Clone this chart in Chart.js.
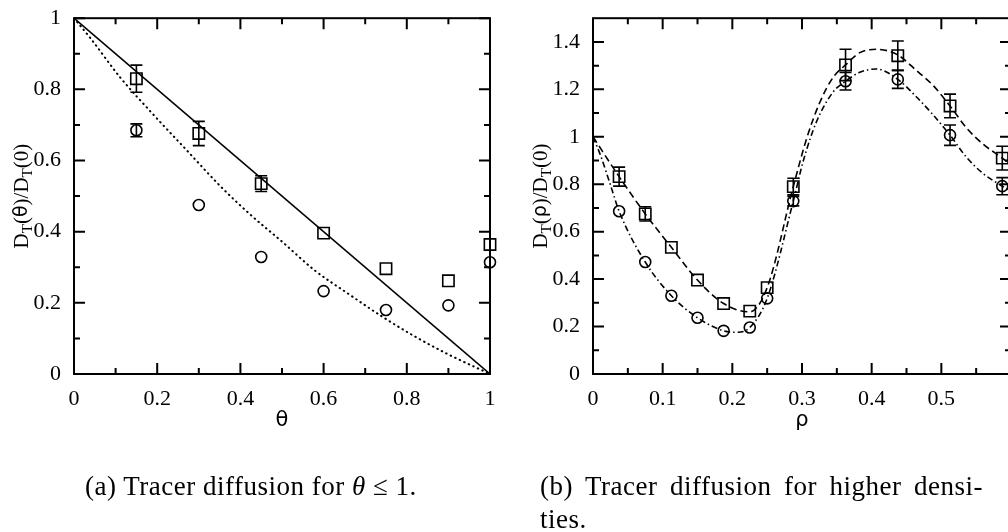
<!DOCTYPE html>
<html>
<head>
<meta charset="utf-8">
<script src="https://cdn.jsdelivr.net/npm/chart.js@4.4.0/dist/chart.umd.min.js"></script>
<style>
  html, body { margin: 0; padding: 0; background: #fff; }
  #page { position: relative; width: 1008px; height: 532px; overflow: hidden; }
  canvas { position: absolute; top: 0; }
  #left { left: 0; }
  #right { left: 504px; }
  .caption { position: absolute; font-family: "Liberation Serif", serif; font-size: 27px; line-height: 33px; color: #000; white-space: nowrap; letter-spacing: 0.5px; }
</style>
</head>
<body>
<div id="page">
  <canvas id="left" width="504" height="532"></canvas>
  <canvas id="right" width="524" height="532"></canvas>
  <div class="caption" style="left:85px; top:470px;">(a) Tracer diffusion for <i>θ</i> ≤ 1.</div>
  <div class="caption" style="left:540px; top:470px; width:443px;">
    <div style="text-align:justify; text-align-last:justify;">(b) Tracer diffusion for higher densi-</div>
    <div>ties.</div>
  </div>
</div>
<script>
// (a) tracer diffusion against coverage theta
const theta = [0.15, 0.3, 0.45, 0.6, 0.75, 0.9, 1.0];
const thetaSquares = [0.83, 0.676, 0.535, 0.396, 0.296, 0.262, 0.364];
const thetaSquaresErr = [0.038, 0.034, 0.022, 0, 0, 0, 0];
const thetaCircles = [0.685, 0.475, 0.329, 0.233, 0.18, 0.193, 0.314];
const thetaCirclesErr = [0.018, 0, 0, 0, 0, 0, 0];
const solidTheta = [0, 1];
const solidVal = [1, 0];
const dottedTheta = [0, 0.04, 0.11, 0.19, 0.27, 0.35, 0.42, 0.5, 0.58, 0.66, 0.74, 0.82, 0.9, 1];
const dottedVal = [1, 0.943, 0.835, 0.73, 0.63, 0.53, 0.452, 0.372, 0.29, 0.225, 0.162, 0.105, 0.055, 0];

// (b) higher densities rho
const rho = [0.0375, 0.075, 0.1125, 0.15, 0.1875, 0.225, 0.25, 0.2875, 0.3625, 0.4375, 0.5125, 0.5875];
const rhoSquares = [0.832, 0.675, 0.534, 0.396, 0.297, 0.265, 0.364, 0.79, 1.303, 1.342, 1.13, 0.91];
const rhoSquaresErr = [0.04, 0.03, 0, 0, 0, 0, 0, 0.035, 0.066, 0.062, 0.05, 0.05];
const rhoCircles = [0.686, 0.472, 0.33, 0.237, 0.182, 0.196, 0.319, 0.729, 1.234, 1.242, 1.007, 0.792];
const rhoCirclesErr = [0, 0, 0, 0, 0, 0, 0, 0.02, 0.037, 0.038, 0.043, 0.036];
const dashRho = [0, 0.0375, 0.075, 0.1125, 0.15, 0.1875, 0.225, 0.25, 0.2875, 0.307, 0.326, 0.345, 0.3625, 0.383, 0.407, 0.4375, 0.464, 0.488, 0.5125, 0.536, 0.56, 0.5875, 0.6];
const dashVal = [1.0, 0.832, 0.675, 0.534, 0.396, 0.297, 0.262, 0.364, 0.79, 0.996, 1.148, 1.252, 1.303, 1.355, 1.369, 1.345, 1.28, 1.217, 1.13, 1.038, 0.969, 0.91, 0.88];
const dashDotRho = [0, 0.01, 0.0244, 0.0375, 0.075, 0.1125, 0.15, 0.1875, 0.205, 0.225, 0.25, 0.2875, 0.302, 0.321, 0.345, 0.3625, 0.383, 0.407, 0.4375, 0.464, 0.488, 0.5125, 0.536, 0.56, 0.5875, 0.6];
const dashDotVal = [1.0, 0.928, 0.803, 0.686, 0.472, 0.33, 0.237, 0.182, 0.176, 0.196, 0.319, 0.729, 0.9, 1.065, 1.19, 1.234, 1.272, 1.286, 1.242, 1.169, 1.093, 1.007, 0.914, 0.845, 0.792, 0.77];

const pts = (xs, ys) => xs.map((x, i) => ({ x: x, y: ys[i] }));
const fmt = v => String(Math.round(v * 100) / 100);
const tickFont = { family: 'Liberation Serif', size: 22 };

// error bars, frame and inward tick marks (top/bottom/left/right)
const decorPlugin = {
  id: 'decor',
  afterDatasetsDraw(chart) {
    const ctx = chart.ctx, a = chart.chartArea;
    const xs = chart.scales.x, ys = chart.scales.y;
    ctx.save();
    ctx.strokeStyle = '#000';
    ctx.lineWidth = 1.6;
    chart.data.datasets.forEach((ds, i) => {
      if (!ds.errors) return;
      chart.getDatasetMeta(i).data.forEach((pt, j) => {
        const e = ds.errors[j];
        if (!e) return;
        const v = ds.data[j].y;
        const y1 = ys.getPixelForValue(v + e), y2 = ys.getPixelForValue(v - e);
        ctx.beginPath();
        ctx.moveTo(pt.x, y1); ctx.lineTo(pt.x, y2);
        ctx.moveTo(pt.x - 6, y1); ctx.lineTo(pt.x + 6, y1);
        ctx.moveTo(pt.x - 6, y2); ctx.lineTo(pt.x + 6, y2);
        ctx.stroke();
      });
    });
    ctx.lineWidth = 2;
    ctx.strokeRect(a.left, a.top, a.right - a.left, a.bottom - a.top);
    const marks = scale => {
      const major = scale.ticks.map(t => t.value);
      const minor = [];
      for (let k = 1; k < major.length; k++) minor.push((major[k] + major[k - 1]) / 2);
      return [[major, 11], [minor, 6]];
    };
    ctx.beginPath();
    marks(xs).forEach(([vals, len]) => vals.forEach(v => {
      const p = xs.getPixelForValue(v);
      ctx.moveTo(p, a.bottom); ctx.lineTo(p, a.bottom - len);
      ctx.moveTo(p, a.top); ctx.lineTo(p, a.top + len);
    }));
    marks(ys).forEach(([vals, len]) => vals.forEach(v => {
      const p = ys.getPixelForValue(v);
      ctx.moveTo(a.left, p); ctx.lineTo(a.left + len, p);
      ctx.moveTo(a.right, p); ctx.lineTo(a.right - len, p);
    }));
    ctx.stroke();
    ctx.restore();
  }
};

// rotated y title with subscript T
const yTitlePlugin = {
  id: 'ytitle',
  afterDraw(chart, args, opts) {
    const ctx = chart.ctx, a = chart.chartArea;
    const main = '21px "Liberation Serif"';
    const sub = '15px "Liberation Serif"';
    const greek = '19px "DejaVu Sans"';
    const parts = [['D', main, 0], ['T', sub, 6], ['(', main, 0], [opts.symbol, greek, 0],
                   [')/D', main, 0], ['T', sub, 6], ['(0)', main, 0]];
    ctx.save();
    let total = 0;
    parts.forEach(p => { ctx.font = p[1]; total += ctx.measureText(p[0]).width; });
    ctx.translate(a.left - 52, (a.top + a.bottom) / 2);
    ctx.rotate(-Math.PI / 2);
    ctx.fillStyle = '#000';
    ctx.textBaseline = 'middle';
    let x = -total / 2;
    parts.forEach(p => { ctx.font = p[1]; ctx.fillText(p[0], x, p[2]); x += ctx.measureText(p[0]).width; });
    ctx.restore();
  }
};

function lineSet(xs, ys, dash, width) {
  return { data: pts(xs, ys), showLine: true, borderColor: '#000', borderWidth: width,
           borderDash: dash, borderCapStyle: dash.length && dash[0] < 1 ? 'round' : 'butt',
           pointRadius: 0, cubicInterpolationMode: 'monotone' };
}
function markSet(xs, ys, errs, style) {
  return { data: pts(xs, ys), pointStyle: style, pointRadius: style === 'rect' ? 8 : 5.5,
           borderColor: '#000', backgroundColor: 'rgba(0,0,0,0)', pointBorderWidth: 1.6,
           showLine: false, clip: false, errors: errs };
}
function makeOptions(xmax, xstep, ymax, ystep, yWidth, rightPad, greek, hideX) {
  return {
    responsive: false, animation: false, events: [],
    layout: { padding: { top: 13, right: rightPad, left: 0, bottom: 0 } },
    plugins: { legend: { display: false }, tooltip: { enabled: false }, ytitle: { symbol: greek } },
    scales: {
      x: { type: 'linear', min: 0, max: xmax,
           grid: { display: false }, border: { display: false },
           ticks: { stepSize: xstep, includeBounds: false, autoSkip: false, maxRotation: 0, padding: 4,
                    color: '#000', font: tickFont, callback: v => (v > hideX ? '' : fmt(v)) },
           title: { display: true, text: greek, color: '#000', font: { family: 'DejaVu Sans', size: 21 },
                    padding: { top: 0, bottom: 99 } },
           afterFit: s => { s.height = 158; } },
      y: { type: 'linear', min: 0, max: ymax,
           grid: { display: false }, border: { display: false },
           ticks: { stepSize: ystep, includeBounds: false, padding: 5, color: '#000', font: tickFont,
                    callback: v => fmt(v) },
           afterFit: s => { s.width = yWidth; } }
    }
  };
}

new Chart(document.getElementById('left'), {
  type: 'scatter',
  data: { datasets: [
    lineSet(solidTheta, solidVal, [], 1.6),
    lineSet(dottedTheta, dottedVal, [0.5, 4.5], 2),
    markSet(theta, thetaSquares, thetaSquaresErr, 'rect'),
    markSet(theta, thetaCircles, thetaCirclesErr, 'circle')
  ] },
  options: makeOptions(1, 0.2, 1, 0.2, 74, 14, 'θ', 2),
  plugins: [decorPlugin, yTitlePlugin]
});

new Chart(document.getElementById('right'), {
  type: 'scatter',
  data: { datasets: [
    lineSet(dashRho, dashVal, [7, 4], 1.6),
    lineSet(dashDotRho, dashDotVal, [6, 3, 1.5, 3], 1.6),
    markSet(rho, rhoSquares, rhoSquaresErr, 'rect'),
    markSet(rho, rhoCircles, rhoCirclesErr, 'circle')
  ] },
  options: makeOptions(0.6, 0.1, 1.5, 0.2, 89, 17, 'ρ', 0.55),
  plugins: [decorPlugin, yTitlePlugin]
});
</script>
</body>
</html>
